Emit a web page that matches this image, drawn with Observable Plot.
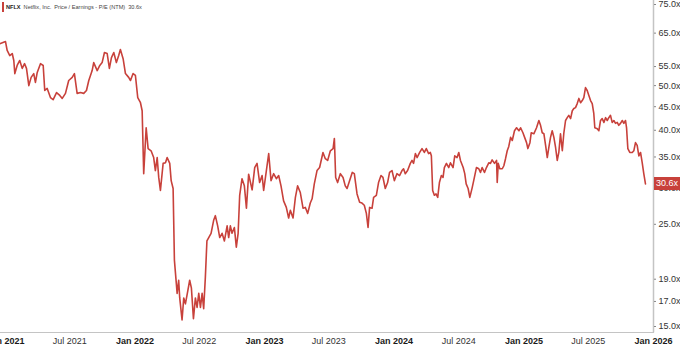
<!DOCTYPE html>
<html><head><meta charset="utf-8">
<script src="https://cdn.jsdelivr.net/npm/d3@7"></script>
<script src="https://cdn.jsdelivr.net/npm/@observablehq/plot@0.6"></script>
<style>
body{margin:0;background:#fff;font-family:"Liberation Sans",Arial,sans-serif;}
#wrap{position:relative;width:680px;height:346px;overflow:hidden;}
#title{position:absolute;left:2px;top:2px;height:10px;font-size:5.6px;color:#444;border-left:2px solid #c8413b;padding-left:2px;line-height:10px;white-space:nowrap;}
#title b{color:#222;margin-right:3px;}
#title span{margin-right:3px;}
#badge{position:absolute;left:654px;width:26px;height:13px;background:#c8413b;color:#fff;font-size:9px;line-height:13px;text-align:center;}
</style></head><body>
<div id="wrap">
<div id="title"><b>NFLX</b><span>Netflix, Inc.</span><span>Price / Earnings - P/E (NTM)</span><span>30.6x</span></div>
</div>
<script>
// decimal-year dates
const dates = [
2020.961,2021.000,2021.013,2021.033,2021.052,2021.064,2021.072,2021.090,2021.110,2021.129,2021.147,2021.162,2021.180,2021.198,2021.218,2021.231,2021.245,2021.270,2021.291,2021.303,2021.322,2021.347,2021.368,2021.394,2021.419,2021.438,2021.463,2021.488,2021.515,2021.532,2021.553,2021.579,2021.604,2021.625,2021.643,2021.669,2021.681,2021.708,2021.728,2021.746,2021.764,2021.785,2021.802,2021.818,2021.836,2021.856,2021.874,2021.887,2021.908,2021.926,2021.951,2021.965,2021.985,2022.003,2022.021,2022.042,
2022.055,2022.067,2022.086,2022.101,2022.124,2022.144,2022.157,2022.171,2022.183,2022.196,2022.217,2022.235,2022.248,2022.268,2022.279,2022.294,2022.304,2022.325,2022.337,2022.345,2022.363,2022.376,2022.389,2022.407,2022.422,2022.435,2022.451,2022.466,2022.479,2022.492,2022.505,2022.518,2022.530,2022.543,2022.555,2022.569,2022.587,2022.607,2022.620,2022.638,2022.654,2022.672,2022.690,2022.711,2022.723,2022.736,2022.749,2022.767,2022.782,2022.796,2022.808,2022.826,2022.844,2022.860,2022.877,2022.904,2022.924,2022.942,2022.962,2022.981,2022.993,2023.014,2023.032,2023.050,2023.070,2023.091,2023.109,2023.127,
2023.147,2023.168,2023.186,2023.199,2023.220,2023.238,2023.255,2023.276,2023.297,2023.315,2023.333,2023.353,2023.367,2023.384,2023.405,2023.425,2023.451,2023.469,2023.487,2023.508,2023.529,2023.539,2023.549,2023.564,2023.585,2023.606,2023.623,2023.637,2023.657,2023.677,2023.693,2023.714,2023.734,2023.752,2023.770,2023.786,2023.799,2023.811,
2023.830,2023.842,2023.863,2023.880,2023.899,2023.914,2023.932,2023.950,2023.965,2023.984,2024.002,2024.022,2024.042,2024.061,2024.073,2024.086,2024.104,2024.125,2024.138,2024.150,2024.164,2024.177,2024.197,2024.215,2024.233,2024.248,2024.266,2024.279,2024.287,2024.297,2024.310,2024.323,2024.336,2024.349,2024.364,2024.377,2024.387,2024.403,2024.421,2024.434,2024.454,2024.467,2024.485,2024.498,2024.511,2024.532,2024.544,2024.555,2024.570,2024.583,2024.601,2024.613,2024.634,2024.652,2024.665,2024.678,2024.696,2024.711,2024.729,2024.742,2024.755,2024.773,2024.789,2024.794,2024.802,2024.814,2024.833,2024.845,2024.858,2024.871,2024.883,2024.897,
2024.910,2024.927,2024.943,2024.961,2024.974,2024.992,2025.005,2025.020,2025.030,2025.046,2025.056,2025.076,2025.097,2025.115,2025.128,2025.141,2025.154,2025.167,2025.180,2025.192,2025.205,2025.218,2025.231,2025.244,2025.257,2025.269,2025.282,2025.296,2025.308,2025.321,2025.334,2025.346,2025.360,2025.373,2025.385,2025.398,2025.411,2025.424,2025.437,2025.450,2025.462,2025.475,2025.488,2025.501,2025.514,2025.527,2025.539,2025.547,2025.566,2025.578,2025.591,2025.604,2025.617,2025.630,2025.643,2025.655,2025.668,2025.681,2025.694,2025.707,2025.720,2025.732,2025.745,2025.759,2025.771,2025.784,2025.792,2025.802,2025.817,2025.836,2025.848,2025.861,2025.874,2025.887,2025.900,2025.913,2025.925,2025.938
];
// P/E (NTM) values
const pe = [
61.7,62.3,59.6,58.1,58.7,56.7,53.1,55.3,56.7,54.5,55.8,54.5,50.0,52.1,53.1,50.8,53.4,55.8,55.3,48.8,49.3,47.1,46.6,48.3,47.6,46.9,48.1,51.3,52.1,53.1,48.1,48.3,48.1,48.8,51.3,53.9,56.1,53.9,55.3,56.1,59.0,58.7,54.5,57.5,59.0,56.1,58.1,59.9,57.2,53.1,52.1,51.3,53.1,52.6,47.1,45.9,
44.1,32.2,40.5,36.5,36.1,34.9,32.7,34.9,31.6,29.6,33.9,34.0,34.9,33.9,31.1,29.9,20.9,17.7,18.9,17.3,15.5,17.3,16.8,17.9,18.9,18.2,15.6,17.3,16.5,17.7,16.5,17.7,16.4,19.2,23.0,23.4,23.9,25.5,26.1,24.8,23.4,23.9,23.0,24.8,23.4,24.8,23.9,24.6,22.3,23.9,28.9,31.4,30.3,27.1,32.1,29.7,33.2,33.9,30.8,31.9,29.6,32.7,35.6,31.1,32.2,31.4,31.9,30.3,
28.1,27.2,25.8,26.8,25.8,28.6,30.3,29.3,27.1,27.2,26.4,27.8,28.4,30.6,32.7,33.2,35.8,34.7,34.4,36.1,36.5,38.4,31.6,30.8,32.2,31.6,30.3,29.9,31.1,32.4,32.2,29.1,27.9,27.8,27.5,26.4,24.6,27.2,
27.1,28.6,28.9,30.8,31.9,31.6,29.9,30.8,32.4,32.7,31.1,32.2,31.9,32.7,33.0,32.2,32.7,33.9,34.4,33.9,35.6,34.9,35.8,36.5,35.8,36.5,35.6,35.8,35.2,29.6,28.9,29.1,28.6,30.8,31.9,31.6,33.2,33.9,33.2,34.0,33.2,35.2,34.9,35.8,34.4,33.2,32.2,30.6,29.9,28.6,30.0,31.1,33.2,33.0,32.4,33.2,32.4,33.2,34.0,33.9,34.5,33.9,34.4,30.8,33.9,33.0,33.0,33.5,34.7,36.1,36.9,38.6,
38.0,39.9,40.5,39.9,40.5,39.5,38.6,37.6,36.5,37.6,39.5,39.3,40.5,42.0,41.0,39.5,39.3,37.1,34.9,36.7,38.6,39.9,38.6,36.7,34.4,35.8,39.3,36.1,39.5,42.0,42.6,43.1,42.4,44.1,44.6,44.8,45.7,46.9,45.9,46.4,47.1,49.5,48.8,47.6,46.4,45.7,43.5,40.5,40.3,39.9,42.0,42.4,41.6,42.6,42.0,42.6,43.1,41.6,42.0,41.4,41.6,41.0,41.4,42.0,41.4,42.0,40.5,36.5,35.8,35.8,36.1,37.6,37.1,35.2,35.8,34.0,32.2,30.6
];
const yTicks = [15, 17, 19, 25, 30, 35, 40, 45, 50, 55, 65, 75];
const janTickLabels = ["Jan 2021", "Jan 2022", "Jan 2023", "Jan 2024", "Jan 2025", "Jan 2026"];
const julTickLabels = ["Jul 2021", "Jul 2022", "Jul 2023", "Jul 2024", "Jul 2025"];
const lastValue = 30.6;

const toDate = t => {
  const y = Math.floor(t);
  const s = Date.UTC(y, 0, 1), e = Date.UTC(y + 1, 0, 1);
  return new Date(s + (t - y) * (e - s));
};
const parseTick = s => {
  const [m, y] = s.split(" ");
  return new Date(Date.UTC(+y, m === "Jan" ? 0 : 6, 1));
};
const fmtTick = d => (d.getUTCMonth() === 0 ? "Jan " : "Jul ") + d.getUTCFullYear();
const data = dates.map((t, i) => ({date: toDate(t), pe: pe[i]}));
const janTicks = janTickLabels.map(parseTick);
const julTicks = julTickLabels.map(parseTick);
const red = "#c8413b";

const chart = Plot.plot({
  width: 680, height: 346,
  marginLeft: 0, marginRight: 27, marginTop: 0, marginBottom: 14,
  style: {fontFamily: "'Liberation Sans', Arial, sans-serif", fontSize: "9px", color: "#333", background: "white"},
  x: {type: "utc", domain: [janTicks[0], janTicks[janTicks.length - 1]], range: [5, 653]},
  y: {type: "log", domain: [15, 75], range: [326, 4]},
  marks: [
    Plot.ruleX([janTicks[janTicks.length - 1]], {stroke: "#c4c4c4", strokeWidth: 1.5}),
    Plot.frame({anchor: "bottom", stroke: "#c4c4c4", strokeWidth: 1.2}),
    Plot.axisY(yTicks, {anchor: "right", label: null, tickSize: 2, tickPadding: 3, stroke: "#888", fill: "#333", tickFormat: d => d.toFixed(1) + "x"}),
    Plot.axisX(janTicks, {anchor: "bottom", label: null, tickSize: 0, tickPadding: 5, fontWeight: "bold", fill: "#1a1a1a", tickFormat: fmtTick}),
    Plot.axisX(julTicks, {anchor: "bottom", label: null, tickSize: 0, tickPadding: 5, fill: "#333", tickFormat: fmtTick}),
    Plot.lineY(data, {x: "date", y: "pe", stroke: red, strokeWidth: 1.6, strokeLinejoin: "round"})
  ]
});
const wrap = document.getElementById("wrap");
wrap.insertBefore(chart, wrap.firstChild);
const badge = document.createElement("div");
badge.id = "badge";
badge.textContent = lastValue.toFixed(1) + "x";
badge.style.top = (chart.scale("y").apply(lastValue) - 6) + "px";
wrap.appendChild(badge);
</script>
</body></html>
